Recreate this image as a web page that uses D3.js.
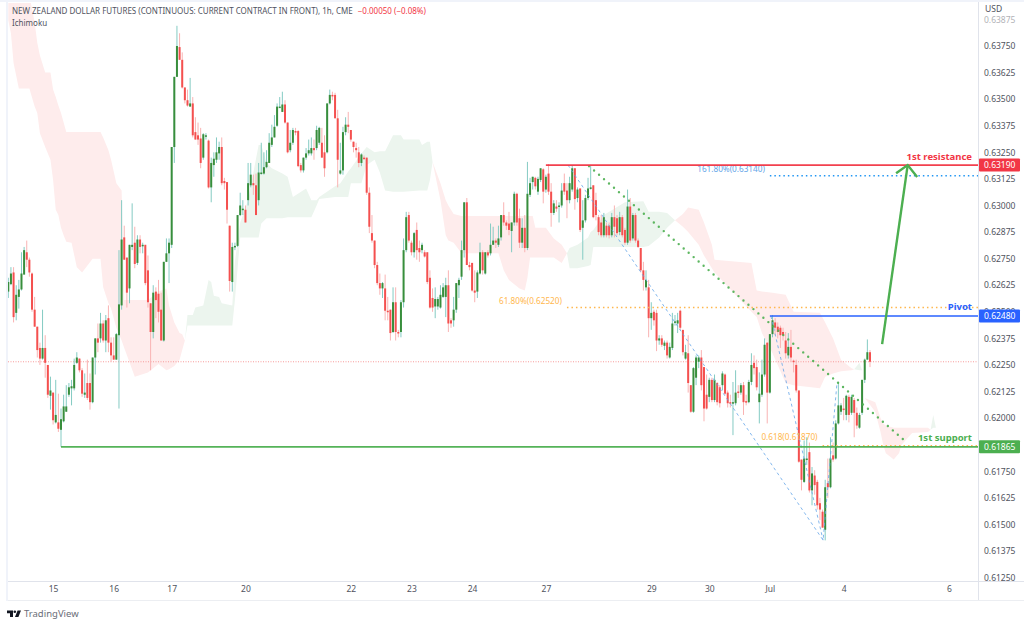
<!DOCTYPE html>
<html>
<head>
<meta charset="utf-8">
<script src="https://cdn.jsdelivr.net/npm/d3@7"></script>
<style>
  html, body { margin: 0; padding: 0; background: #fff; }
  svg { display: block; }
  text { font-family: "Noto Sans", sans-serif; }
</style>
</head>
<body>
<svg id="chart" width="1024" height="625"></svg>
<script>
// hourly candles, prices in 1/100000
var opens = [
  62595,62630,62685,62495,62570,62605,62675,62780,62745,62680,
  62510,62430,62330,62280,62330,62250,62105,62120,61980,61980,
  61945,61985,62030,62110,62140,62140,62260,62280,62225,62110,
  62165,62165,62075,62285,62375,62375,62445,62365,62470,62355,
  62295,62275,62390,62530,62850,62755,62610,62805,62825,62730,
  62840,62810,62815,62695,62540,62405,62595,62585,62510,62365,
  62735,62775,62815,63275,63605,63745,63685,63555,63495,63465,
  63480,63345,63330,63315,63225,63325,63305,63085,63190,63215,
  63245,63275,63115,63110,62905,62640,62805,62810,62955,62980,
  62980,63025,63095,63105,63095,63025,63150,63150,63180,63200,
  63285,63320,63375,63460,63440,63475,63390,63260,63295,63350,
  63350,63190,63165,63225,63245,63245,63270,63270,63295,63295,
  63250,63250,63480,63520,63520,63410,63150,63165,63345,63380,
  63355,63300,63270,63250,63200,63225,63225,63060,62870,62835,
  62720,62635,62610,62610,62505,62510,62405,62545,62405,62405,
  62545,62790,62955,62825,62780,62885,62800,62790,62780,62780,
  62660,62565,62525,62525,62520,62570,62570,62625,62460,62460,
  62510,62625,62665,62790,63015,62720,62730,62600,62595,62680,
  62780,62680,62780,62775,62815,62835,62815,62850,62955,62920,
  62915,62880,62920,63055,62940,62825,62895,62800,63050,63110,
  63130,63065,63120,63170,63075,63150,63065,62965,62995,62995,
  63000,63105,63070,63025,63075,63175,63035,63080,62895,62930,
  63035,63080,63095,63025,62945,62920,62860,62905,62905,62860,
  62945,62940,62875,62945,62885,62825,62995,62845,62955,62835,
  62800,62695,62615,62615,62470,62500,62495,62365,62375,62340,
  62355,62285,62330,62450,62445,62505,62415,62280,62305,62155,
  62030,62190,62265,62285,62240,62110,62100,62180,62085,62165,
  62145,62155,62205,62120,62075,62070,62070,62125,62120,62155,
  62080,62075,62170,62260,62240,62075,62110,62205,62355,62120,
  62395,62450,62430,62425,62405,62365,62295,62335,62270,62250,
  62130,61805,61700,61805,61840,61660,61730,61700,61600,61560,
  61475,61695,61675,61825,61810,61975,62030,62045,62015,62100,
  62025,62085,62025,61955,62025,62180,62275,62310
];
var highs = [
  62660,62710,62710,62625,62650,62780,62805,62835,62755,62685,
  62570,62430,62355,62510,62390,62250,62195,62120,62180,62115,
  62045,62110,62155,62165,62180,62280,62310,62280,62235,62210,
  62275,62210,62285,62375,62445,62495,62460,62485,62530,62380,
  62380,62400,62790,63025,62905,62755,62815,63010,62900,62860,
  62860,62825,62815,62765,62540,62625,62615,62650,62590,62735,
  62845,62845,63275,63605,63845,63810,63720,63555,63545,63600,
  63510,63415,63390,63365,63340,63340,63310,63225,63250,63320,
  63300,63320,63130,63110,62905,62825,62825,62955,63060,63025,
  63000,63200,63200,63145,63150,63200,63295,63250,63260,63340,
  63380,63425,63480,63510,63535,63495,63390,63355,63365,63365,
  63355,63200,63225,63270,63310,63320,63310,63375,63370,63365,
  63330,63480,63545,63535,63530,63450,63295,63370,63415,63440,
  63355,63300,63295,63275,63245,63235,63225,63085,62955,62835,
  62735,62680,62640,62675,62570,62510,62615,62615,62415,62555,
  62845,62970,62970,62835,62875,62920,62835,62825,62790,62780,
  62695,62610,62615,62570,62625,62635,62660,62695,62470,62570,
  62635,62660,62835,63015,63035,62735,62730,62695,62695,62825,
  62790,62780,62790,62915,62900,62845,62905,62955,63015,62930,
  62970,62920,63065,63060,62985,62940,62955,63205,63130,63135,
  63135,63135,63175,63175,63145,63195,63105,63025,63025,63015,
  63105,63150,63105,63135,63190,63175,63085,63080,63025,63050,
  63130,63185,63095,63060,62955,62955,62965,62920,62920,62965,
  63000,62955,62970,62955,62895,63075,63035,62965,62965,62845,
  62800,62735,62695,62650,62545,62510,62510,62390,62390,62365,
  62365,62355,62495,62485,62495,62510,62415,62345,62390,62155,
  62240,62295,62295,62320,62240,62205,62190,62190,62205,62170,
  62155,62220,62210,62130,62110,62170,62225,62155,62165,62170,
  62110,62180,62305,62295,62275,62215,62275,62375,62355,62395,
  62485,62470,62450,62435,62425,62405,62400,62415,62275,62275,
  62130,61805,61895,61910,61885,61770,61755,61710,61625,61570,
  61710,61810,61910,61885,61990,62170,62070,62095,62110,62110,
  62110,62095,62050,62025,62180,62280,62370,62320
];
var lows = [
  62565,62625,62450,62460,62515,62600,62675,62710,62665,62500,
  62430,62285,62250,62275,62190,62095,62040,61970,61975,61935,
  61865,61980,62030,62100,62060,62130,62255,62215,62100,62095,
  62085,62040,62070,62205,62310,62355,62355,62310,62310,62265,
  62275,62275,62045,62510,62745,62520,62540,62790,62705,62720,
  62775,62775,62625,62520,62225,62375,62470,62450,62365,62360,
  62735,62635,62800,63200,63605,63685,63550,63480,63465,63465,
  63320,63310,63285,63175,63215,63310,63080,63015,63135,63200,
  63215,63095,63075,62915,62595,62595,62790,62805,62950,62955,
  62920,63000,63085,63050,62955,63000,63145,63145,63175,63200,
  63275,63320,63370,63460,63440,63385,63245,63250,63285,63330,
  63180,63155,63155,63215,63235,63235,63215,63260,63285,63225,
  63135,63245,63475,63495,63410,63085,63145,63145,63330,63340,
  63300,63250,63225,63180,63185,63215,63050,62870,62825,62705,
  62625,62580,62565,62460,62460,62365,62400,62365,62380,62380,
  62520,62780,62825,62765,62755,62745,62735,62775,62755,62630,
  62515,62500,62470,62510,62515,62565,62475,62405,62425,62430,
  62495,62565,62650,62755,62720,62695,62595,62545,62565,62675,
  62675,62675,62755,62765,62815,62800,62805,62835,62905,62885,
  62860,62780,62905,62905,62800,62800,62780,62790,63040,63075,
  63075,63050,63110,63010,63060,63050,62900,62955,62970,62920,
  62990,63050,62940,63010,63065,62980,63015,62875,62745,62920,
  63025,63075,62940,62930,62860,62850,62850,62850,62845,62850,
  62850,62860,62860,62850,62815,62815,62825,62835,62825,62800,
  62685,62600,62600,62380,62415,62435,62315,62345,62335,62320,
  62280,62280,62320,62435,62400,62415,62295,62275,62120,62025,
  62025,62155,62235,62130,61985,62040,62075,62075,62075,62060,
  62050,62130,62110,62050,62050,61920,62060,62095,62110,62015,
  62060,62070,62155,62205,62130,61975,62100,62195,61975,62115,
  62380,62390,62375,62330,62365,62280,62280,62265,62215,62120,
  61790,61660,61695,61780,61650,61590,61640,61570,61520,61485,
  61425,61625,61670,61795,61805,61970,62015,61990,61990,61980,
  62015,61910,61950,61950,62015,62165,62275,62240
];
var closes = [
  62640,62680,62475,62580,62605,62680,62790,62745,62685,62510,
  62430,62320,62280,62330,62260,62110,62130,61990,62015,61950,
  61995,62055,62055,62145,62150,62250,62285,62225,62115,62120,
  62095,62075,62285,62375,62355,62445,62365,62460,62355,62295,
  62275,62395,62535,62840,62745,62590,62815,62815,62725,62840,
  62805,62815,62635,62545,62405,62590,62555,62500,62365,62735,
  62775,62825,63275,63605,63750,63685,63555,63495,63470,63480,
  63330,63310,63310,63200,63335,63330,63085,63200,63220,63250,
  63275,63105,63105,62980,62645,62805,62810,62955,63000,62985,
  62920,63105,63145,63095,62955,63155,63155,63180,63205,63295,
  63320,63370,63465,63465,63475,63390,63250,63295,63355,63345,
  63185,63165,63225,63245,63260,63270,63260,63355,63365,63225,
  63175,63480,63520,63515,63410,63215,63165,63345,63380,63370,
  63310,63275,63260,63200,63240,63220,63060,62900,62835,62720,
  62635,62610,62635,62505,62500,62400,62545,62405,62400,62545,
  62790,62945,62835,62780,62870,62790,62780,62815,62760,62640,
  62520,62520,62560,62560,62580,62615,62625,62445,62445,62510,
  62635,62650,62790,63015,62720,62710,62600,62590,62685,62780,
  62695,62780,62765,62815,62835,62825,62845,62955,62920,62905,
  62885,62920,63055,62920,62825,62895,62800,63055,63105,63135,
  63090,63125,63175,63065,63135,63065,62965,63010,62985,63000,
  63070,63065,63025,63105,63175,63030,63075,62885,62930,63035,
  63080,63085,62945,62955,62875,62860,62945,62860,62860,62945,
  62900,62870,62945,62860,62825,62995,62835,62955,62835,62805,
  62695,62650,62650,62470,62495,62460,62365,62375,62345,62355,
  62295,62335,62445,62455,62460,62425,62310,62310,62165,62030,
  62235,62285,62285,62155,62045,62045,62180,62085,62180,62075,
  62070,62210,62115,62070,62070,62075,62120,62120,62155,62075,
  62075,62170,62250,62235,62145,62115,62205,62345,62120,62395,
  62460,62425,62405,62390,62390,62305,62335,62285,62265,62130,
  61795,61710,61810,61810,61660,61740,61685,61590,61570,61485,
  61675,61675,61810,61805,61975,62060,62060,62040,62105,62015,
  62100,62025,61965,62015,62180,62275,62310,62265
];

// ichimoku cloud, red where spanB is above spanA
var kumoBars = [
  0,1,2,4,8,10,11,12,14,16,17,18,19,20,21,22,24,26,28,32,35,36,38,39,41,43,44,48,53,57,60,61,63,65,66,67,
  68,70,71,74,76,77,78,80,81,85,86,88,91,95,96,98,100,104,106,108,113,115,117,118,124,126,129,130,134,136,139,141,143,146,149,150,156,157,159,160,161,
  164,166,167,169,172,186,188,190,194,196,197,198,199,200,204,207,210,212,
  213,216,220,221,222,226,234,241,243,247,250,253,
  256,258,262,264,267,268,282,284,286,290,295,298,308,310,313,316,320,321,
  323,324,
  325,329,331,332,333,336,338,339,343,349,350,
  351,352
];
var spanA = [
  63870,63810,63670,63550,63550,63465,63435,63340,63275,63215,63120,62980,62955,62895,62860,62830,62825,62710,62685,62750,62750,62615,62540,62515,62425,62365,62330,62195,62215,62255,62225,62230,62245,62275,62320,62365,
  62485,62485,62520,62530,62650,62640,62575,62570,62540,62530,62735,62920,63025,63285,63285,63200,63175,63150,63135,63040,63080,63025,63025,63040,63090,63105,63160,63175,63245,63275,63250,63255,63255,63330,63330,63310,63310,63285,63300,63300,63205,
  63025,62860,62835,62825,62775,62775,62695,62650,62610,62600,62660,62755,62755,62755,62755,62755,62730,62775,
  62800,62815,62850,62875,62885,62955,63015,63020,62970,62970,62965,62930,
  62900,62875,62815,62765,62705,62685,62500,62475,62400,62305,62165,62155,62140,62195,62210,62220,62225,62230,
  62260,62225,
  62095,62030,61935,61875,61835,61805,61835,61875,61930,61935,61945,
  62015,61955
];
var spanB = [
  64015,64015,64015,64015,63990,63860,63765,63705,63625,63625,63545,63510,63470,63435,63390,63345,63345,63345,63345,63345,63345,63320,63260,63215,63105,63070,62555,62555,62555,62595,62610,62530,62450,62400,62395,62365,
  62435,62435,62435,62435,62435,62435,62435,62435,62435,62435,62555,62850,62850,62850,62915,62940,62940,62940,62945,62945,62945,62945,63000,63030,63040,63040,63040,63105,63105,63190,63215,63155,63070,63065,63065,63065,63070,63070,63070,63120,63205,
  63105,63025,63000,62960,62950,62950,62950,62950,62950,62950,62950,62950,62950,62895,62895,62845,62815,62775,
  62705,62705,62715,62720,62805,62805,62805,62805,62810,62850,62895,62930,
  62960,62990,62980,62920,62815,62745,62730,62600,62595,62590,62580,62500,62495,62450,62375,62275,62235,62230,
  62225,62225,
  62095,62075,62000,61975,61965,61955,61955,61955,61955,61955,61945,
  61955,61955
];

var levels = [0.6319, 0.6248, 0.61865];
var levelBars = [204, 289, 20];
var levelNames = ['1st resistance', 'Pivot', '1st support'];
var fibLevels = [0.6314, 0.6252, 0.6187];
var fibBars = [289, 212, 309];
var fibNames = ['161.80%(0.63140)', '61.80%(0.62520)', '0.618(0.61870)'];
var lastPrice = 0.62265;
var trendBars = [220.4, 339.5];
var trendPrices = [0.63185, 0.61901];
var legBars = [212.4, 309.2, 314.5];
var legPrices = [0.6319, 0.61426, 0.62169];
var leg2Bars = [289.4, 309.2];
var leg2Prices = [0.6248, 0.61426];
var arrowBars = [331.6, 341.3];
var arrowPrices = [0.62348, 0.6319];
var arrowHeadBars = [336.9, 341.3, 344.9];
var arrowHeadPrices = [0.63152, 0.6319, 0.63134];
// 0.61875 sits behind the support tag
var priceTicks = d3.range(0, 22).map(function(i) { return 0.6125 + i * 0.00125; })
  .filter(function(p) { return Math.abs(p - 0.61875) > 0.0001; });
var dayBars = [17, 40, 62, 90, 130, 153, 176, 204, 244, 266, 289, 317, 357];
var dayLabels = ['15', '16', '17', '20', '22', '23', '24', '27', '29', '30', 'Jul', '4', '6'];

var red = '#f23645', blue = '#2962ff', green = '#4caf50', orange = '#ffb74d', sky = '#64a5e8';
var grey = '#50535e';
var paneLeft = 8, paneRight = 978, paneTop = 3, paneBottom = 581;

var svg = d3.select('#chart');
var x = d3.scaleLinear().domain([0, 327]).range([8.3, 870]);
var y = d3.scaleLinear().domain([0.6125, 0.6375]).range([577.6, 46]);
var py = function(v) { return y(v / 100000); };

svg.append('clipPath').attr('id', 'pane').append('rect')
  .attr('x', paneLeft).attr('y', paneTop)
  .attr('width', paneRight - paneLeft).attr('height', paneBottom - paneTop);

// frame
svg.append('rect').attr('x', 0).attr('y', 0).attr('width', 1024).attr('height', 2).attr('fill', '#f0f3fa');
svg.append('rect').attr('x', 6).attr('y', 0).attr('width', 2).attr('height', 601).attr('fill', '#f0f3fa');
svg.append('line').attr('x1', paneRight + .5).attr('x2', paneRight + .5).attr('y1', 2).attr('y2', 600).attr('stroke', '#e0e3eb');
svg.append('line').attr('x1', paneLeft).attr('x2', 1024).attr('y1', paneBottom + .5).attr('y2', paneBottom + .5).attr('stroke', '#e0e3eb');
svg.append('line').attr('x1', paneLeft).attr('x2', 1024).attr('y1', 600.5).attr('y2', 600.5).attr('stroke', '#eceef2');

var pane = svg.append('g').attr('clip-path', 'url(#pane)');

// cloud
var kumo = d3.range(kumoBars.length);
pane.append('path').datum(kumo)
  .attr('fill', '#feecec')
  .attr('d', d3.area()
    .defined(function(i) { return spanB[i] >= spanA[i]; })
    .x(function(i) { return x(kumoBars[i]); })
    .y0(function(i) { return py(spanA[i]); })
    .y1(function(i) { return py(spanB[i]); }));
pane.append('path').datum(kumo)
  .attr('fill', '#ecf5ee')
  .attr('d', d3.area()
    .defined(function(i) { return spanA[i] >= spanB[i]; })
    .x(function(i) { return x(kumoBars[i]); })
    .y0(function(i) { return py(spanB[i]); })
    .y1(function(i) { return py(spanA[i]); }));

// last price
pane.append('line')
  .attr('x1', paneLeft).attr('x2', paneRight)
  .attr('y1', y(lastPrice)).attr('y2', y(lastPrice))
  .attr('stroke', '#f79a9a').attr('stroke-width', 1).attr('stroke-dasharray', '1 1.5');

// candles
var bars = d3.range(opens.length);
pane.selectAll('line.wick').data(bars).enter().append('line')
  .attr('class', 'wick')
  .attr('x1', function(i) { return x(i); })
  .attr('x2', function(i) { return x(i); })
  .attr('y1', function(i) { return py(highs[i]); })
  .attr('y2', function(i) { return py(lows[i]); })
  .attr('stroke', function(i) { return closes[i] >= opens[i] ? '#84cbc3' : '#f9b3b3'; })
  .attr('stroke-width', 1);
pane.selectAll('rect.body').data(bars).enter().append('rect')
  .attr('class', 'body')
  .attr('x', function(i) { return x(i) - 1; })
  .attr('width', 2)
  .attr('y', function(i) { return py(Math.max(opens[i], closes[i])); })
  .attr('height', function(i) { return Math.max(1.5, Math.abs(py(opens[i]) - py(closes[i]))); })
  .attr('fill', function(i) { return closes[i] >= opens[i] ? '#388e3c' : '#f4504f'; });

// drawings
var line = d3.line()
  .x(function(d) { return x(d[0]); })
  .y(function(d) { return y(d[1]); });

function drawLine(xs, ys, color, width, dash) {
  return svg.append('path')
    .datum(d3.zip(xs, ys))
    .attr('d', line)
    .attr('fill', 'none')
    .attr('stroke', color)
    .attr('stroke-width', width)
    .attr('stroke-dasharray', dash);
}

drawLine(legBars, legPrices, sky, 1, '3 3').attr('opacity', .8);
drawLine(leg2Bars, leg2Prices, sky, 1, '3 3').attr('opacity', .8);
drawLine(trendBars, trendPrices, green, 2.4, '0 6.6').attr('stroke-linecap', 'round').attr('opacity', .9);

var fibColors = [sky, orange, orange];
fibLevels.forEach(function(p, i) {
  svg.append('line')
    .attr('x1', x(fibBars[i])).attr('x2', paneRight)
    .attr('y1', y(p)).attr('y2', y(p))
    .attr('stroke', i == 0 ? '#2196f3' : fibColors[i])
    .attr('stroke-width', 1.5)
    .attr('stroke-dasharray', '1.5 3');
});
svg.selectAll('text.fib').data(fibNames).enter().append('text')
  .attr('class', 'fib')
  .attr('x', function(d, i) { return x(fibBars[i]) - 5; })
  .attr('y', function(d, i) { return y(fibLevels[i]) - [4, 4, 6][i]; })
  .attr('text-anchor', 'end')
  .attr('font-size', 8.2)
  .attr('fill', function(d, i) { return fibColors[i]; })
  .text(function(d) { return d; });

var levelColors = [red, blue, green];
levels.forEach(function(p, i) {
  svg.append('line')
    .attr('x1', x(levelBars[i])).attr('x2', paneRight)
    .attr('y1', y(p)).attr('y2', y(p))
    .attr('stroke', levelColors[i])
    .attr('stroke-width', i == 1 ? 1.4 : 1.8)
    .attr('opacity', i == 1 ? 1 : .95);
});
svg.selectAll('text.level').data(levelNames).enter().append('text')
  .attr('class', 'level')
  .attr('x', 972)
  .attr('y', function(d, i) { return y(levels[i]) - [5, 6, 6][i]; })
  .attr('text-anchor', 'end')
  .attr('font-size', 9.5)
  .attr('font-weight', 700)
  .attr('fill', function(d, i) { return levelColors[i]; })
  .text(function(d) { return d; });

drawLine(arrowBars, arrowPrices, green, 2.4);
drawLine(arrowHeadBars, arrowHeadPrices, green, 2.4).attr('stroke-linejoin', 'miter');

// axes
var yAxis = d3.axisRight(y).tickValues(priceTicks).tickFormat(d3.format('.5f')).tickSize(0).tickPadding(0);
var yg = svg.append('g').attr('transform', 'translate(984,0)').call(yAxis);
yg.select('.domain').remove();
yg.selectAll('text').attr('font-size', 8.5).attr('fill', grey).style('font-family', '"Noto Sans", sans-serif');
yg.selectAll('.tick').filter(function(d) { return d > 0.638; }).attr('opacity', .45);

var xAxis = d3.axisBottom(x).tickValues(dayBars)
  .tickFormat(function(d, i) { return dayLabels[i]; }).tickSize(0).tickPadding(0);
var xg = svg.append('g').attr('transform', 'translate(0,586)').call(xAxis);
xg.select('.domain').remove();
xg.selectAll('text').attr('font-size', 8.5).attr('fill', grey).style('font-family', '"Noto Sans", sans-serif');

// price tags
svg.selectAll('rect.tag').data(levels).enter().append('rect')
  .attr('class', 'tag')
  .attr('x', paneRight + 1).attr('width', 41)
  .attr('y', function(d) { return y(d) - 6.5; })
  .attr('height', 13).attr('rx', 1)
  .attr('fill', function(d, i) { return levelColors[i]; });
svg.selectAll('text.tag').data(levels).enter().append('text')
  .attr('class', 'tag')
  .attr('x', 984)
  .attr('y', function(d) { return y(d) + 3; })
  .attr('font-size', 8.5)
  .attr('fill', '#fff')
  .text(function(d) { return d3.format('.5f')(d); });

// header
svg.append('text').attr('x', 985).attr('y', 12).attr('font-size', 8.5).attr('fill', grey).text('USD');
var title = svg.append('text').attr('x', 12).attr('y', 14).attr('font-size', 8).attr('fill', grey);
title.append('tspan').text('NEW ZEALAND DOLLAR FUTURES (CONTINUOUS: CURRENT CONTRACT IN FRONT), 1h, CME');
title.append('tspan').attr('dx', 5).attr('fill', red).text('\u22120.00050 (\u22120.08%)');
svg.append('text').attr('x', 12).attr('y', 26).attr('font-size', 8).attr('fill', grey).text('Ichimoku');

// footer mark
svg.append('path').attr('fill', '#131722')
  .attr('d', 'M7 610.5h6v6.5h-3v-3.8h-3z M17.6 610.5h3.4l-2.6 6.5h-3.4z');
svg.append('circle').attr('cx', 14.8).attr('cy', 611.8).attr('r', 1.3).attr('fill', '#131722');
svg.append('text').attr('x', 24).attr('y', 617).attr('font-size', 9.5).attr('fill', '#6a6d78').text('TradingView');
</script>
</body>
</html>
